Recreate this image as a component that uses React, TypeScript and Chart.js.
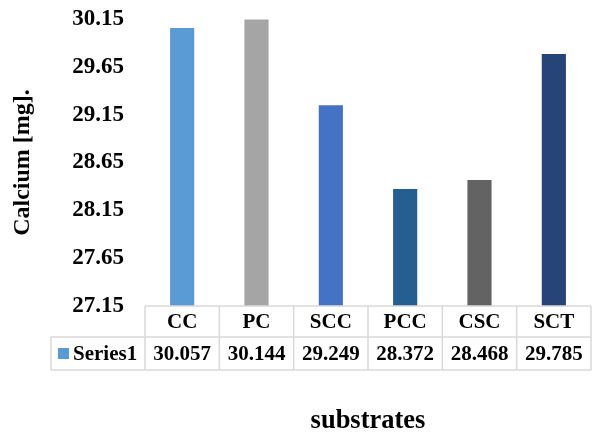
import React, { useEffect, useRef } from "react";
import { Chart, registerables } from "chart.js";

Chart.register(...registerables);

const categories = ["CC", "PC", "SCC", "PCC", "CSC", "SCT"];
const seriesName = "Series1";
const calcium = [30.057, 30.144, 29.249, 28.372, 28.468, 29.785];
const barColors = ["#5B9BD5", "#A5A5A5", "#4472C4", "#255E91", "#636363", "#264478"];
const yMin = 27.15;
const yMax = 30.15;
const yStep = 0.5;
const yTitle = "Calcium [mg].";
const xTitle = "substrates";

const FONT = '"Liberation Serif", "Times New Roman", serif';
const BORDER = "#d9d9d9";

// Draws the data table (category row + value row) under the plot area and the x title.
const dataTablePlugin = {
  id: "dataTable",
  afterDraw(chart: any) {
    const { ctx, chartArea, scales } = chart;
    const x = scales.x;
    const n = categories.length;
    const colW = (chartArea.right - chartArea.left) / n;
    const top = chartArea.bottom;
    const row1 = top + 31;
    const row2 = row1 + 33;
    const labelLeft = 51;

    ctx.save();
    ctx.strokeStyle = BORDER;
    ctx.lineWidth = 1.5;

    // horizontal lines
    ctx.beginPath();
    ctx.moveTo(chartArea.left, top);
    ctx.lineTo(chartArea.right, top);
    ctx.moveTo(labelLeft, row1);
    ctx.lineTo(chartArea.right, row1);
    ctx.moveTo(labelLeft, row2);
    ctx.lineTo(chartArea.right, row2);
    // vertical lines
    ctx.moveTo(labelLeft, row1);
    ctx.lineTo(labelLeft, row2);
    for (let i = 0; i <= n; i++) {
      const px = chartArea.left + i * colW;
      ctx.moveTo(px, top);
      ctx.lineTo(px, row2);
    }
    ctx.stroke();

    ctx.fillStyle = "#000";
    ctx.textAlign = "center";
    ctx.textBaseline = "middle";
    ctx.font = `bold 21px ${FONT}`;
    categories.forEach((c, i) => {
      const cx = x.getPixelForValue(i);
      ctx.fillText(c, cx, (top + row1) / 2 + 1);
      ctx.fillText(calcium[i].toFixed(3), cx, (row1 + row2) / 2 + 1);
    });

    // legend key + series name
    ctx.fillStyle = barColors[0];
    ctx.fillRect(58, (row1 + row2) / 2 - 5.5, 11, 11);
    ctx.fillStyle = "#000";
    ctx.textAlign = "left";
    ctx.fillText(seriesName, 73, (row1 + row2) / 2 + 1);

    // x axis title
    ctx.textAlign = "center";
    ctx.font = `bold 26.5px ${FONT}`;
    ctx.fillText(xTitle, (chartArea.left + chartArea.right) / 2, 421);
    ctx.restore();
  },
};

export default function App() {
  const canvasRef = useRef<HTMLCanvasElement | null>(null);

  useEffect(() => {
    const canvas = canvasRef.current;
    if (!canvas) return;
    const chart = new Chart(canvas, {
      type: "bar",
      data: {
        labels: categories,
        datasets: [
          {
            label: seriesName,
            data: calcium,
            backgroundColor: barColors,
            borderWidth: 0,
            categoryPercentage: 1,
            barPercentage: 0.325,
          },
        ],
      },
      options: {
        responsive: false,
        animation: false,
        layout: { padding: { top: 19, bottom: 127, left: 0, right: 1 } },
        plugins: {
          legend: { display: false },
          tooltip: { enabled: false },
        },
        scales: {
          x: {
            display: false,
          },
          y: {
            min: yMin,
            max: yMax,
            border: { display: false },
            // tick marks are not drawn; tickLength only reserves the gap before the labels
            grid: { display: false, drawTicks: true, tickLength: 18 },
            ticks: {
              stepSize: yStep,
              padding: 3,
              color: "#000",
              font: { family: FONT, size: 23, weight: "bold" },
              callback: (v: any) => Number(v).toFixed(2),
            },
            title: {
              display: true,
              text: yTitle,
              color: "#000",
              font: { family: FONT, size: 24, weight: "bold" },
              padding: { top: 8, bottom: 0 },
            },
            afterFit: (scale: any) => {
              scale.width = 145;
            },
          },
        },
      },
      plugins: [dataTablePlugin],
    });
    return () => chart.destroy();
  }, []);

  return (
    <div style={{ position: "fixed", left: 0, top: 0, width: 592, height: 433, background: "#fff" }}>
      <canvas ref={canvasRef} width={592} height={433} />
    </div>
  );
}
